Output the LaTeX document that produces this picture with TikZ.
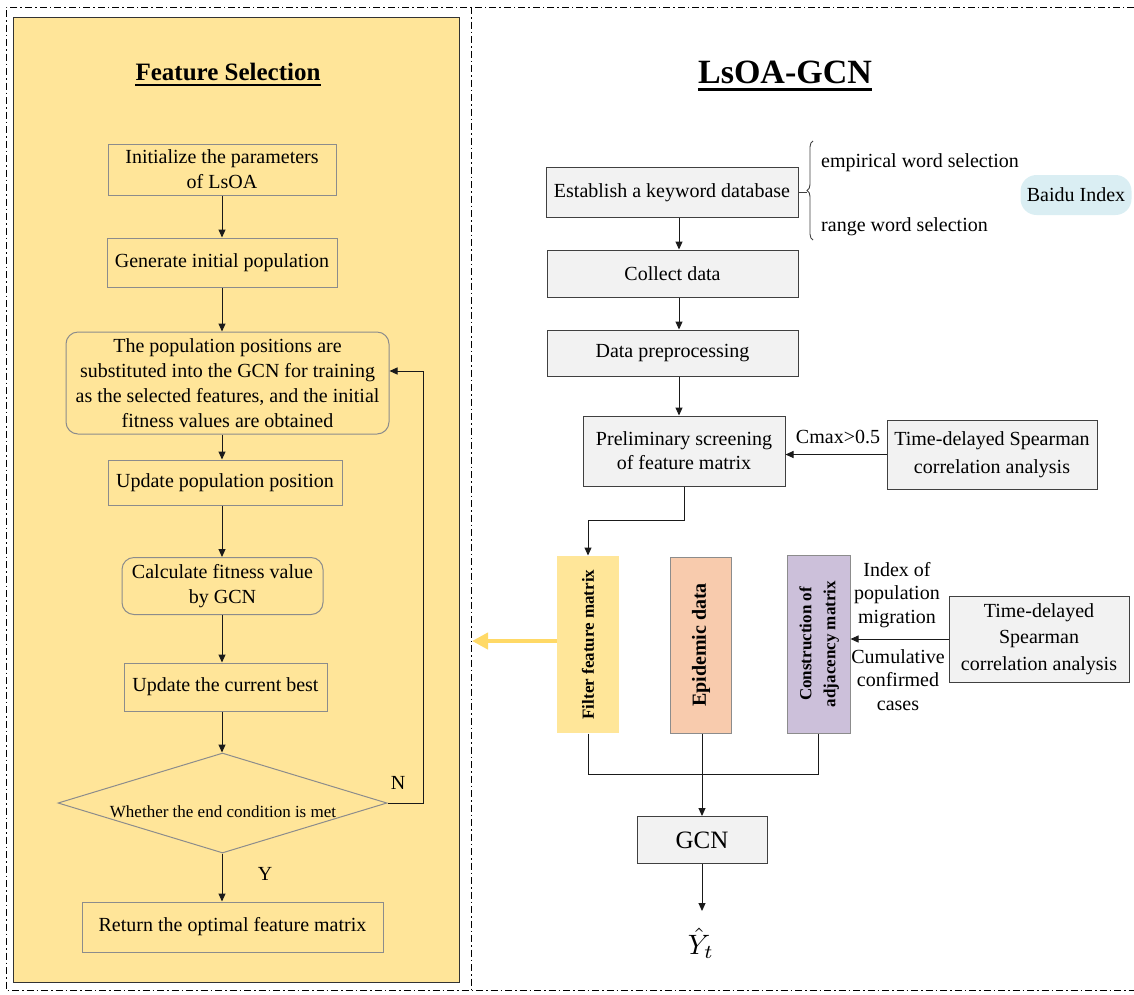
\documentclass[tikz,border=0pt]{standalone}
\usepackage{fontspec}
\setmainfont{Liberation Serif}
\usetikzlibrary{arrows.meta,shapes.geometric,decorations.pathreplacing}
\definecolor{panel}{HTML}{FFE599}
\definecolor{lgray}{HTML}{8C8C8C}
\definecolor{dgray}{HTML}{404040}
\definecolor{boxfill}{HTML}{F2F2F2}
\definecolor{filtfill}{HTML}{FFE699}
\definecolor{epifill}{HTML}{F8CBAD}
\definecolor{consfill}{HTML}{CCC0DA}
\definecolor{baidufill}{HTML}{DAEEF3}
\definecolor{goldarrow}{HTML}{FFD966}
\definecolor{linecol}{HTML}{1A1A1A}
\tikzset{
  txt/.style={inner sep=0pt, align=center, font=\fontsize{20}{25}\selectfont},
  lbox/.style={txt, draw=lgray, fill=panel, line width=1pt},
  lround/.style={lbox, rounded corners=12pt},
  rbox/.style={txt, draw=dgray, fill=boxfill, line width=1pt},
  vbox/.style={txt, line width=1pt, font=\fontsize{17}{24}\selectfont\bfseries},
  arr/.style={draw=linecol, line width=1pt, -{Triangle[length=8pt,width=7pt]}},
  plain/.style={draw=linecol, line width=1pt},
  frame/.style={line width=0.9pt, dash pattern=on 7pt off 3pt on 1.5pt off 3pt},
}
\begin{document}
\begin{tikzpicture}[x=1pt,y=-1pt]
\useasboundingbox (0,0) rectangle (1134,994);

% outer dash-dot frame and divider
\draw[frame] (1134,7) -- (6,7) -- (6,990) -- (1134,990);
\draw[frame] (471,7) -- (471,990);

% left panel
\draw[draw=black!80, fill=panel, line width=1pt] (13,17) rectangle (459,982);

% titles
\node[inner sep=0pt, anchor=base, font=\fontsize{25}{30}\selectfont\bfseries] (fst) at (228,80) {Feature Selection};
\draw[line width=1.6pt] ([yshift=-5pt]fst.base west) -- ([yshift=-5pt]fst.base east);
\node[inner sep=0pt, anchor=base, font=\fontsize{34}{40}\selectfont\bfseries] (lst) at (785,83) {LsOA-GCN};
\draw[line width=2.4pt] ([yshift=-6.5pt]lst.base west) -- ([yshift=-6.5pt]lst.base east);

% ---------- feature selection flow ----------
\coordinate (ax) at (222,0);
\node[lbox, minimum width=228pt, minimum height=51pt] (init) at (222,169.5) {Initialize the parameters\\of LsOA};
\node[lbox, minimum width=230pt, minimum height=49pt] (gen) at (222,262.5) {Generate initial population};
\node[lround, minimum width=323pt, minimum height=102pt] (subst) at (227.5,383) {The population positions are\\substituted into the GCN for training\\as the selected features, and the initial\\fitness values are obtained};
\node[lbox, minimum width=234pt, minimum height=45pt] (upd) at (225,482.5) {Update population position};
\node[lround, minimum width=201pt, minimum height=57pt] (calc) at (222.5,586) {Calculate fitness value\\by GCN};
\node[lbox, minimum width=203pt, minimum height=48pt] (best) at (225.5,687) {Update the current best};
\node[diamond, aspect=3.29, draw=lgray, fill=panel, line width=1pt, inner sep=0pt, minimum width=329pt, minimum height=100pt] (dia) at (222.5,803) {};
\node[txt, font=\fontsize{17}{20}\selectfont] (cond) at (223,812) {Whether the end condition is met};
\node[lbox, minimum width=301pt, minimum height=50pt] (ret) at (232.5,927) {Return the optimal feature matrix};

\draw[arr] (init.south -| ax) -- (gen.north -| ax);
\draw[arr] (gen.south -| ax) -- (subst.north -| ax);
\draw[arr] (subst.south -| ax) -- (upd.north -| ax);
\draw[arr] (upd.south -| ax) -- (calc.north -| ax);
\draw[arr] (calc.south -| ax) -- (best.north -| ax);
\draw[arr] (best.south -| ax) -- (dia.north -| ax);
\draw[arr] (dia.south -| ax) -- (ret.north -| ax);

\coordinate (fbx) at (423,0);
\draw[arr] (dia.east) -- (dia.east -| fbx) |- ([yshift=12pt]subst.east);
\node[txt] (nlab) at (398,783) {N};
\node[txt] (ylab) at (265,874) {Y};

% ---------- LsOA-GCN flow ----------
\coordinate (rx) at (679,0);
\node[rbox, minimum width=252pt, minimum height=50pt] (kw) at (672,192.5) {Establish a keyword database};
\node[rbox, minimum width=251pt, minimum height=47pt] (coll) at (672.5,273.5) {Collect data};
\node[rbox, minimum width=251pt, minimum height=46pt] (prep) at (672.5,353) {Data preprocessing};
\node[rbox, minimum width=202pt, minimum height=70pt, font=\fontsize{20}{24}\selectfont] (prel) at (684,451) {Preliminary screening\\of feature matrix};
\node[rbox, minimum width=210pt, minimum height=69pt, font=\fontsize{20}{28}\selectfont] (spear) at (992,454.5) {Time-delayed Spearman\\correlation analysis};

\draw[arr] (kw.south -| rx) -- (coll.north -| rx);
\draw[arr] (coll.south -| rx) -- (prep.north -| rx);
\draw[arr] (prep.south -| rx) -- (prel.north -| rx);
\draw[arr] (spear.west) -- (prel.east |- spear.west);
\node[txt] (cmax) at (838,437) {Cmax>0.5};

% keyword sources
\draw[line width=0.9pt, draw=dgray, decorate, decoration={brace, amplitude=6pt}] (813,240) -- (813,141);
\draw[line width=0.9pt, draw=dgray] (kw.east) -- (807,192.5);
\node[txt, anchor=west] (emp) at (821,163) {empirical word selection};
\node[txt, anchor=west] (rng) at (821,227) {range word selection};
\node[txt, fill=baidufill, rounded corners=16pt, minimum width=111pt, minimum height=40pt] (baidu) at (1076,195) {Baidu Index};

% feature / epidemic / adjacency blocks
\node[vbox, fill=filtfill, minimum width=62pt, minimum height=177pt] (filt) at (588,644.5) {\rotatebox{90}{Filter feature matrix}};
\node[vbox, draw=lgray, fill=epifill, minimum width=61pt, minimum height=176pt, font=\fontsize{20}{24}\selectfont\bfseries] (epi) at (701,645) {\rotatebox{90}{Epidemic data}};
\node[vbox, draw=lgray, fill=consfill, minimum width=63pt, minimum height=178pt] (cons) at (818.5,644) {\rotatebox{90}{\begin{tabular}{@{}c@{}}Construction of\\adjacency matrix\end{tabular}}};

\coordinate (jy) at (0,520);
\draw[arr] (prel.south) -- (prel.south |- jy) -| (filt.north);

\node[rbox, minimum width=180pt, minimum height=86pt, font=\fontsize{20}{26.5}\selectfont] (spear2) at (1039,639) {Time-delayed\\Spearman\\correlation analysis};
\draw[arr] (spear2.west) -- (cons.east |- spear2.west);
\node[txt, font=\fontsize{20}{23.5}\selectfont] (mig) at (897,595) {Index of\\population\\migration};
\node[txt, font=\fontsize{20}{23.5}\selectfont] (cum) at (898,680) {Cumulative\\confirmed\\cases};

% hand-over to the feature selection panel
\coordinate (gold) at (472,641);
\draw[goldarrow, line width=4pt, -{Triangle[length=16pt,width=16pt]}] (filt.west |- gold) -- (gold);

% merge into GCN
\coordinate (jb) at (0,774);
\node[rbox, minimum width=130pt, minimum height=47pt, font=\fontsize{25}{30}\selectfont] (gcn) at (702,840) {GCN};
\draw[plain] (filt.south) -- (filt.south |- jb) -| (cons.south);
\draw[arr] (epi.south -| gcn.north) -- (gcn.north);
\coordinate (yend) at (702,911);
\draw[arr] (gcn.south) -- (yend);
\node[inner sep=0pt] (yhat) at (701,943) {\scalebox{2.8}{$\hat{Y}_t$}};
\end{tikzpicture}
\end{document}
